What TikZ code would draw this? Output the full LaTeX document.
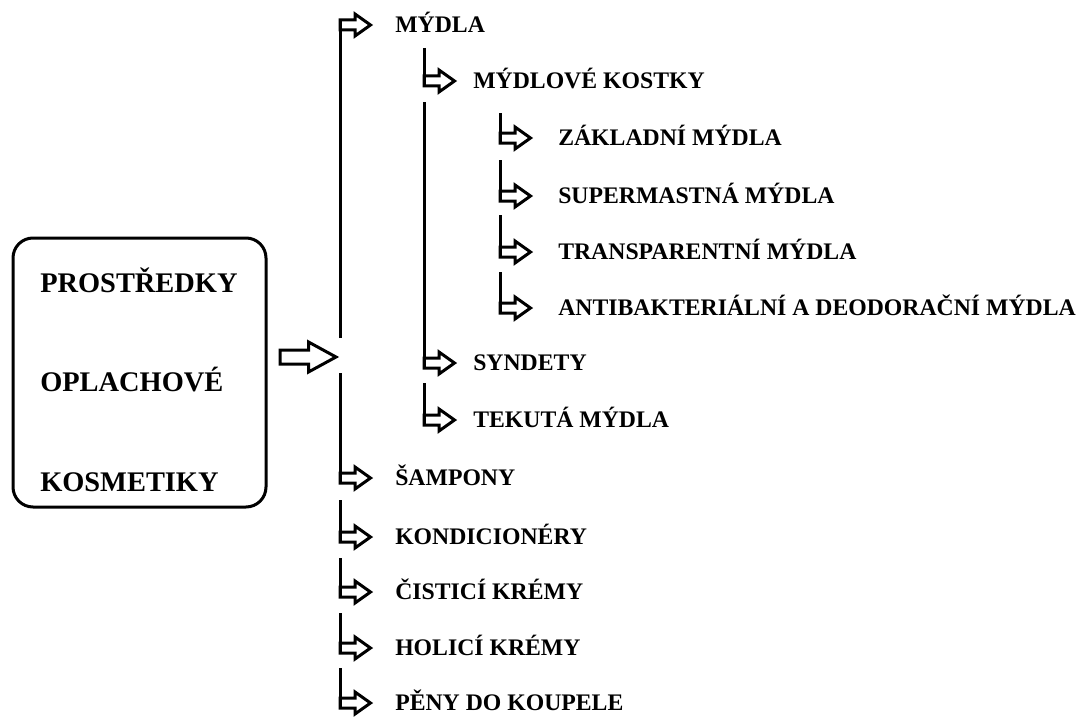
\documentclass[tikz,border=0pt]{standalone}
\usepackage{fontspec}
\setmainfont{Liberation Serif}
\usetikzlibrary{calc}

\tikzset{
  stem/.style={line width=2.25pt, line join=miter},
  item/.style={anchor=west, inner sep=0pt, text height=11.8pt, text depth=0pt,
    font=\bfseries\fontsize{17.8}{20}\selectfont},
  roottext/.style={item, text height=14.1pt, font=\bfseries\fontsize{21.3}{24}\selectfont},
  rootbox/.style={draw, line width=2.25pt, rounded corners=15pt, inner sep=0pt,
    minimum width=189.75pt, minimum height=201.75pt},
  pics/hollowarrow/.style={code={
    \draw[stem] (0,-5) -- (15,-5) -- (15,-11) -- (30.5,0) -- (15,11) -- (15,5) -- (0,5) -- cycle;}}
}

% vertical stem from #1 down to the arrow of node #2
\newcommand{\branch}[2]{%
  \draw[stem] (#1) -- ($(#1 |- #2.west)+(0,5)$);
  \pic at (#1 |- #2.west) {hollowarrow};
}

\begin{document}
\begin{tikzpicture}[x=0.75pt,y=-0.75pt]

\fill[white] (0,0) rectangle (1081,717);
\useasboundingbox (0,0) rectangle (1081,717);

% root box
\node[rootbox] (root) at (139.5,372.5) {};
\node[roottext] (root1) at (40,283) {PROSTŘEDKY};
\node[roottext] (root2) at (40,382) {OPLACHOVÉ};
\node[roottext] (root3) at (40,482) {KOSMETIKY};

\coordinate (bigtail) at ($(root.east)+(12.5,-15.5)$);
\draw[stem] ($(bigtail)+(0,-7)$) -- ++(28.5,0) -- ++(0,-8) -- ++(27.5,15)
  -- ++(-27.5,15) -- ++(0,-8) -- ++(-28.5,0) -- cycle;

% first level
\node[item] (soap) at (395,25) {MÝDLA};
\node[item] (shampoo) at (395,478) {ŠAMPONY};
\node[item] (conditioner) at (395,537) {KONDICIONÉRY};
\node[item] (cleanser) at (395,592) {ČISTICÍ KRÉMY};
\node[item] (shaving) at (395,648) {HOLICÍ KRÉMY};
\node[item] (bath) at (395,703) {PĚNY DO KOUPELE};

\coordinate (gap1) at (340,338);
\coordinate (gap2) at (340,373);
\draw[stem] (gap1) -- ($(gap1 |- soap.west)+(0,-5)$);
\pic at (gap1 |- soap.west) {hollowarrow};
\branch{gap2}{shampoo}
\coordinate (t1) at (340,500);
\coordinate (t2) at (340,558);
\coordinate (t3) at (340,613);
\coordinate (t4) at (340,668);
\branch{t1}{conditioner}
\branch{t2}{cleanser}
\branch{t3}{shaving}
\branch{t4}{bath}

% second level
\node[item] (bars) at (473,81) {MÝDLOVÉ KOSTKY};
\node[item] (syndets) at (473,363) {SYNDETY};
\node[item] (liquid) at (473,420) {TEKUTÁ MÝDLA};
\coordinate (s1) at (424,48);
\coordinate (s2) at (424,102);
\coordinate (s3) at (424,383);
\branch{s1}{bars}
\branch{s2}{syndets}
\branch{s3}{liquid}

% third level
\foreach \n/\t/\y/\txt in {basic/113/138/ZÁKLADNÍ MÝDLA,
    superfat/160/196/SUPERMASTNÁ MÝDLA,
    clear/215/252/TRANSPARENTNÍ MÝDLA,
    antibac/272/308/ANTIBAKTERIÁLNÍ A DEODORAČNÍ MÝDLA}{
  \node[item] (\n) at (558,\y) {\txt};
  \coordinate (\n-top) at (500,\t);
  \branch{\n-top}{\n}
}

\end{tikzpicture}
\end{document}
